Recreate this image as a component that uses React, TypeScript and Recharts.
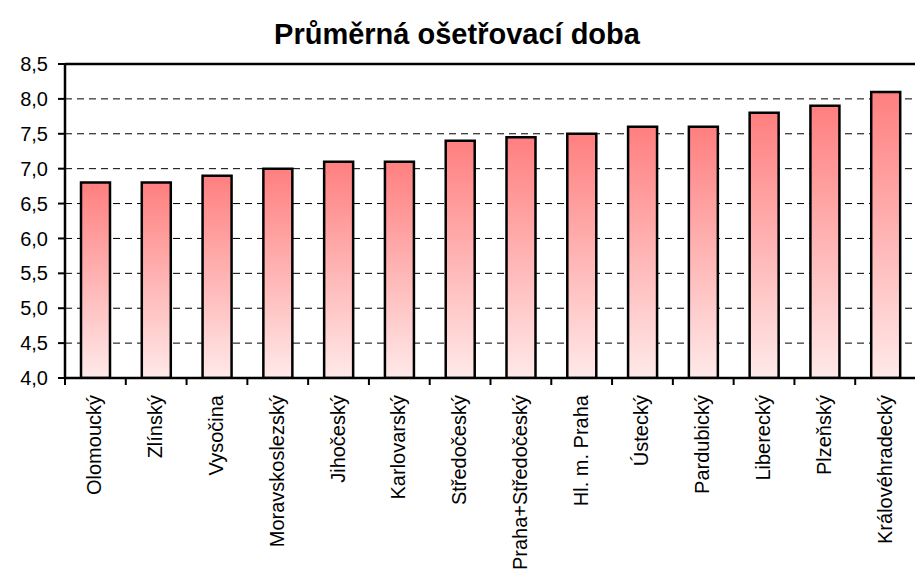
import React from 'react';
import { BarChart, Bar, XAxis, YAxis, CartesianGrid, ReferenceLine } from 'recharts';

const categories = [
  'Olomoucký', 'Zlínský', 'Vysočina', 'Moravskoslezský', 'Jihočeský', 'Karlovarský',
  'Středočeský', 'Praha+Středočeský', 'Hl. m. Praha', 'Ústecký', 'Pardubický',
  'Liberecký', 'Plzeňský', 'Královéhradecký',
];
const values = [6.8, 6.8, 6.9, 7.0, 7.1, 7.1, 7.4, 7.45, 7.5, 7.6, 7.6, 7.8, 7.9, 8.1];
const yTicks = [4, 4.5, 5, 5.5, 6, 6.5, 7, 7.5, 8, 8.5];
const title = 'Průměrná ošetřovací doba';

const data = categories.map((name, i) => ({ name, value: values[i] }));

const FONT = '"Liberation Sans", Arial, sans-serif';

const XTick = (props: any) => {
  const { x, y, payload } = props;
  const off = payload && typeof payload.offset === 'number' ? payload.offset : 30.4;
  const left = x - off;
  return (
    <g>
      <line x1={left} y1={y} x2={left} y2={y + 7} stroke="#000" strokeWidth={2} />
      <text
        x={x}
        y={y + 17}
        dy={6}
        transform={`rotate(-90, ${x}, ${y + 17})`}
        textAnchor="end"
        fontSize={20}
        fontFamily={FONT}
        fill="#000"
      >
        {payload.value}
      </text>
    </g>
  );
};

export default function App() {
  return (
    <div style={{ position: 'absolute', left: 0, top: 0, width: 915, height: 577, overflow: 'hidden', background: '#fff' }}>
      <svg width={915} height={60} style={{ position: 'absolute', left: 0, top: 0 }}>
        <text x={457} y={44} textAnchor="middle" fontSize={29} fontWeight="bold" fontFamily={FONT} fill="#000">
          {title}
        </text>
      </svg>
      <div style={{ position: 'absolute', left: 0, top: 0 }}>
        <BarChart width={916} height={577} data={data} margin={{ top: 64, right: 0, left: 0, bottom: 9 }} barCategoryGap={0}>
          <defs>
            <linearGradient id="barGrad" x1="0" y1="0" x2="0" y2="1">
              <stop offset="0%" stopColor="#FF7F7F" />
              <stop offset="100%" stopColor="#FFE9E9" />
            </linearGradient>
          </defs>
          <CartesianGrid vertical={false} stroke="#000" strokeDasharray="7 5" strokeWidth={1} />
          <XAxis
            dataKey="name"
            interval={0}
            height={190}
            tickSize={0}
            tickMargin={0}
            tickLine={false}
            axisLine={{ stroke: '#000', strokeWidth: 2.5 }}
            tick={<XTick />}
          />
          <YAxis
            width={65}
            domain={[4, 8.5]}
            ticks={yTicks}
            interval={0}
            allowDataOverflow
            tickSize={7}
            tickMargin={10}
            axisLine={{ stroke: '#000', strokeWidth: 2.5 }}
            tickLine={{ stroke: '#000', strokeWidth: 2 }}
            tick={{ fill: '#000', fontSize: 20, fontFamily: FONT }}
            tickFormatter={(v: number) => v.toFixed(1).replace('.', ',')}
          />
          <ReferenceLine y={8.5} stroke="#000" strokeWidth={2.5} />
          <Bar dataKey="value" fill="url(#barGrad)" stroke="#000" strokeWidth={2.5} barSize={29} isAnimationActive={false} />
        </BarChart>
      </div>
    </div>
  );
}
